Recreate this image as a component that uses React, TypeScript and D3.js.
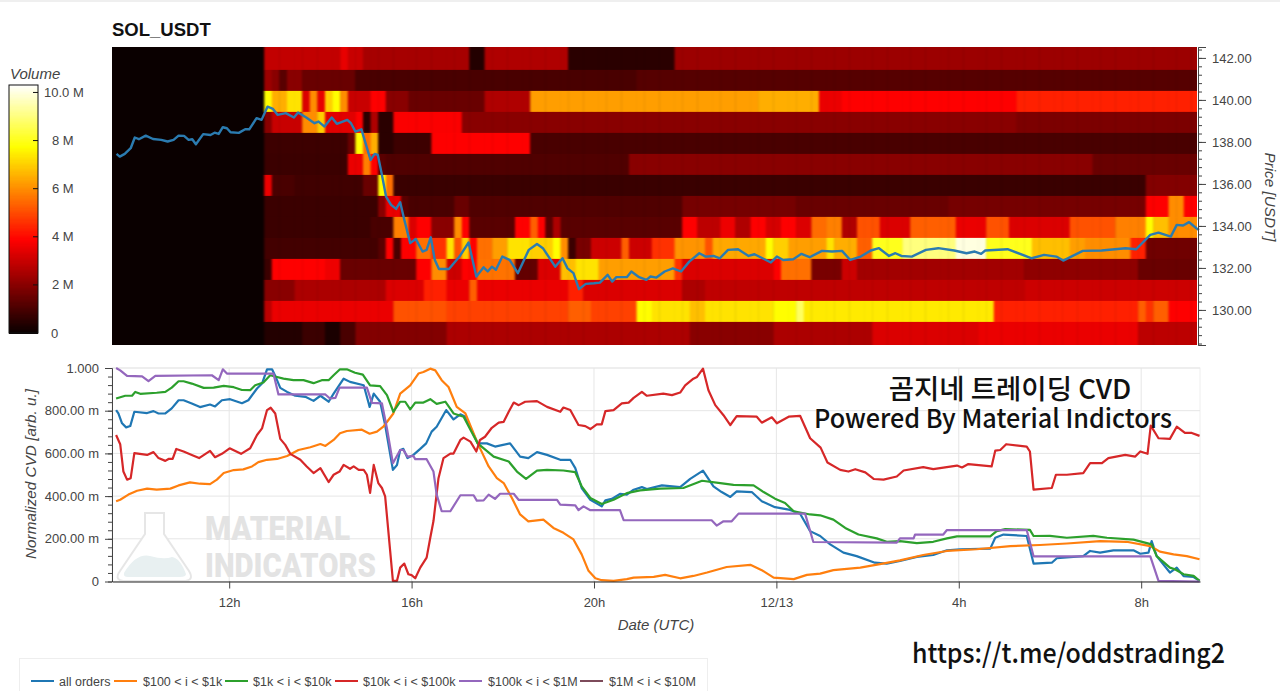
import React, { useEffect, useRef } from 'react';
import * as d3 from 'd3';

type Pt = [number, number];

// time is in hours from 12/12 00:00
const hourTicks = [12, 16, 20, 24, 28, 32];
const hourLabels = ['12h', '16h', '20h', '12/13', '4h', '8h'];
const priceTicks = [130, 132, 134, 136, 138, 140, 142];
const cvdTicks = [0, 0.2, 0.4, 0.6, 0.8, 1];
const volumeTicks = [0, 2, 4, 6, 8, 10];

// heatmap: one row per price level, runs of [end column, volume in millions], 10 minute columns
const heatStartHour = 12.767;
const heatColHours = 1 / 6;
const heatCols = 123;
const row142: Pt[] = [[10, 2.9], [11, 3.5], [13, 3.0], [27, 2.45], [29, 0.4], [40, 2.6], [54, 0.5], [123, 2.3]];
const row141: Pt[] = [[1, 2.3], [2, 2.0], [3, 1.25], [5, 2.0], [12, 1.5], [49, 1.0], [123, 1.2]];
const row140: Pt[] = [[1, 7.7], [3, 6.5], [5, 7.3], [6, 3.3], [7, 6.0], [8, 3.5], [9, 7.0], [10, 7.7], [11, 6.0], [14, 3.0], [16, 3.85], [19, 2.0], [29, 1.5], [35, 2.6], [65, 6.25], [73, 6.5], [76, 3.55], [99, 3.85], [123, 4.35]];
const row139: Pt[] = [[1, 2.0], [5, 3.0], [7, 6.0], [8, 7.0], [12, 3.4], [13, 3.85], [14, 0.5], [15, 2.6], [17, 0.5], [26, 3.8], [99, 2.0], [123, 1.8]];
const row138: Pt[] = [[11, 0.8], [12, 1.5], [13, 7.7], [14, 5.5], [15, 6.5], [17, 0.5], [22, 0.8], [35, 3.85], [123, 1.0]];
const row137: Pt[] = [[11, 0.77], [13, 3.55], [14, 5.8], [15, 3.85], [16, 1.25], [48, 1.1], [109, 2.0], [123, 1.5]];
const row136: Pt[] = [[1, 3.55], [4, 1.0], [13, 0.85], [15, 1.5], [16, 7.7], [17, 5.55], [116, 0.75], [123, 1.9]];
const row135: Pt[] = [[15, 0.77], [16, 2.0], [18, 3.55], [19, 1.25], [25, 1.0], [27, 1.5], [55, 1.1], [70, 1.7], [90, 1.5], [116, 1.7], [119, 3.85], [121, 6.0], [123, 3.85]];
const row134: Pt[] = [[14, 0.77], [17, 1.0], [19, 5.8], [20, 3.3], [22, 3.85], [25, 2.0], [26, 6.0], [27, 3.85], [33, 1.25], [35, 3.85], [36, 5.3], [37, 3.85], [38, 1.25], [39, 2.55], [55, 1.25], [57, 3.85], [60, 2.8], [62, 3.6], [64, 2.6], [66, 3.85], [68, 3.2], [70, 3.85], [72, 3.3], [74, 5.5], [76, 5.8], [78, 2.6], [81, 5.1], [85, 3.3], [91, 5.3], [95, 3.55], [98, 5.1], [106, 3.3], [112, 5.1], [116, 5.8], [117, 7.7], [119, 6.75], [123, 6.0]];
const row133: Pt[] = [[15, 0.9], [16, 1.25], [17, 3.85], [18, 1.0], [20, 3.85], [22, 5.55], [24, 4.6], [25, 7.3], [26, 5.1], [27, 7.0], [28, 3.85], [30, 5.55], [32, 6.25], [35, 7.3], [38, 7.0], [39, 7.7], [40, 6.0], [41, 0.77], [43, 1.75], [47, 3.05], [48, 5.3], [51, 3.05], [54, 4.6], [58, 6.1], [59, 5.1], [66, 6.4], [67, 7.7], [69, 7.0], [74, 6.25], [75, 7.3], [78, 6.5], [80, 5.3], [84, 8.0], [91, 9.0], [95, 10.0], [101, 8.0], [106, 6.75], [108, 6.25], [114, 6.0], [116, 4.35], [123, 1.6]];
const row132: Pt[] = [[1, 0.77], [8, 3.85], [10, 3.6], [20, 1.5], [22, 3.85], [24, 6.0], [26, 3.05], [28, 3.85], [33, 5.6], [36, 1.4], [39, 3.3], [41, 6.75], [44, 7.3], [54, 6.25], [55, 4.6], [67, 3.3], [68, 3.85], [72, 5.55], [76, 1.75], [78, 3.05], [100, 2.4], [115, 2.1], [123, 1.5]];
const row131: Pt[] = [[4, 2.0], [16, 2.55], [21, 3.3], [24, 4.35], [27, 3.55], [28, 5.3], [40, 3.55], [42, 4.35], [55, 3.3], [58, 2.55], [100, 2.85], [123, 3.05]];
const row130: Pt[] = [[1, 2.8], [17, 3.55], [24, 5.1], [40, 4.85], [43, 5.3], [49, 4.85], [51, 7.7], [56, 7.3], [58, 6.75], [67, 7.3], [70, 7.7], [71, 8.7], [96, 7.4], [115, 4.35], [116, 5.3], [117, 4.6], [119, 5.3], [123, 3.85]];
const row129: Pt[] = [[5, 0.4], [8, 0.77], [10, 0.25], [12, 1.0], [24, 1.9], [56, 2.55], [67, 2.0], [80, 2.55], [94, 3.3], [115, 3.55], [123, 2.8]];
const heatPrices = [142, 141, 140, 139, 138, 137, 136, 135, 134, 133, 132, 131, 130, 129];
const heatRows = [row142, row141, row140, row139, row138, row137, row136, row135, row134, row133, row132, row131, row130, row129];

const price: Pt[] = [[9.53, 137.43], [9.6, 137.3], [9.71, 137.43], [9.84, 137.7], [9.93, 138.21], [10.02, 138.13], [10.17, 138.3], [10.33, 138.14], [10.51, 138.1], [10.65, 138.02], [10.78, 138.1], [10.89, 138.3], [11.01, 138.29], [11.11, 138.1], [11.19, 138.13], [11.27, 137.89], [11.43, 138.37], [11.59, 138.33], [11.68, 138.44], [11.77, 138.38], [11.86, 138.7], [11.95, 138.65], [12.03, 138.46], [12.21, 138.43], [12.35, 138.6], [12.44, 138.6], [12.6, 139.13], [12.71, 139.05], [12.84, 139.68], [12.96, 139.57], [13.06, 139.29], [13.24, 139.37], [13.42, 139.16], [13.51, 139.4], [13.69, 139.16], [13.87, 138.89], [13.96, 138.97], [14.09, 138.73], [14.25, 139.16], [14.36, 138.86], [14.59, 139.05], [14.67, 138.89], [14.77, 138.49], [14.9, 138.6], [14.99, 137.94], [15.1, 137.14], [15.19, 137.43], [15.26, 137.38], [15.35, 136.43], [15.44, 135.4], [15.55, 135.0], [15.66, 134.81], [15.75, 135.13], [15.84, 134.29], [15.97, 133.18], [16.09, 133.38], [16.24, 132.78], [16.33, 132.86], [16.42, 133.46], [16.51, 132.38], [16.6, 131.95], [16.82, 131.95], [17.05, 132.54], [17.25, 133.21], [17.42, 131.59], [17.58, 132.03], [17.67, 131.83], [17.76, 132.06], [17.85, 131.91], [17.99, 132.54], [18.15, 132.38], [18.33, 131.75], [18.57, 132.86], [18.75, 133.14], [18.88, 132.94], [19.15, 132.06], [19.31, 132.46], [19.42, 131.98], [19.55, 131.75], [19.67, 130.99], [19.82, 131.24], [20.0, 131.27], [20.13, 131.3], [20.3, 131.67], [20.4, 131.35], [20.49, 131.56], [20.72, 131.56], [20.82, 131.83], [20.99, 131.56], [21.15, 131.43], [21.24, 131.59], [21.37, 131.54], [21.55, 131.83], [21.73, 131.98], [21.91, 131.83], [22.09, 132.3], [22.31, 132.7], [22.45, 132.54], [22.62, 132.57], [22.76, 132.46], [22.94, 132.86], [23.16, 132.89], [23.39, 132.57], [23.52, 132.65], [23.88, 132.26], [24.01, 132.54], [24.15, 132.38], [24.37, 132.41], [24.55, 132.67], [24.73, 132.51], [25.0, 132.81], [25.22, 132.78], [25.44, 132.81], [25.62, 132.38], [25.85, 132.54], [26.07, 132.83], [26.25, 132.94], [26.47, 132.57], [26.61, 132.7], [26.74, 132.57], [26.97, 132.54], [27.28, 132.86], [27.55, 132.94], [27.9, 132.83], [28.17, 132.7], [28.35, 132.78], [28.49, 132.67], [28.58, 132.83], [29.07, 132.89], [29.6, 132.46], [29.87, 132.62], [30.14, 132.54], [30.29, 132.35], [30.72, 132.81], [31.13, 132.83], [31.66, 132.94], [31.89, 132.89], [32.2, 133.57], [32.38, 133.68], [32.65, 133.49], [32.78, 134.05], [32.92, 134.02], [33.05, 134.18], [33.21, 133.89], [33.27, 133.81]];

const cvdAll: Pt[] = [[9.52, 0.803], [9.57, 0.787], [9.65, 0.741], [9.74, 0.722], [9.83, 0.728], [9.92, 0.795], [10.2, 0.789], [10.34, 0.798], [10.45, 0.787], [10.6, 0.787], [10.74, 0.811], [10.89, 0.849], [11.0, 0.849], [11.18, 0.834], [11.36, 0.817], [11.58, 0.829], [11.69, 0.82], [11.84, 0.849], [12.02, 0.854], [12.28, 0.835], [12.42, 0.849], [12.61, 0.904], [12.72, 0.927], [12.83, 0.994], [12.94, 0.994], [13.01, 0.963], [13.12, 0.907], [13.27, 0.888], [13.45, 0.87], [13.67, 0.865], [13.85, 0.846], [14.0, 0.87], [14.18, 0.842], [14.29, 0.88], [14.51, 0.95], [14.65, 0.935], [14.95, 0.919], [15.06, 0.834], [15.08, 0.818], [15.17, 0.88], [15.31, 0.842], [15.42, 0.733], [15.59, 0.523], [15.68, 0.546], [15.75, 0.616], [15.82, 0.621], [15.91, 0.578], [16.04, 0.593], [16.19, 0.621], [16.32, 0.647], [16.44, 0.702], [16.55, 0.725], [16.76, 0.803], [16.92, 0.759], [17.07, 0.783], [17.18, 0.772], [17.45, 0.647], [17.65, 0.647], [17.83, 0.632], [18.16, 0.647], [18.38, 0.585], [18.56, 0.578], [18.75, 0.606], [18.97, 0.593], [19.26, 0.57], [19.48, 0.57], [19.59, 0.531], [19.73, 0.438], [19.92, 0.383], [20.17, 0.352], [20.25, 0.38], [20.39, 0.387], [20.57, 0.41], [20.72, 0.407], [20.87, 0.43], [21.05, 0.442], [21.16, 0.433], [21.49, 0.45], [21.89, 0.442], [22.11, 0.481], [22.39, 0.519], [22.62, 0.446], [22.8, 0.419], [22.99, 0.396], [23.13, 0.422], [23.46, 0.419], [23.68, 0.376], [23.97, 0.348], [24.27, 0.337], [24.52, 0.317], [24.74, 0.236], [24.96, 0.213], [25.18, 0.174], [25.47, 0.135], [25.76, 0.119], [26.16, 0.088], [26.42, 0.084], [26.71, 0.096], [27.08, 0.115], [27.44, 0.124], [27.74, 0.146], [28.03, 0.151], [28.69, 0.154], [28.8, 0.205], [28.98, 0.22], [29.49, 0.213], [29.64, 0.084], [30.04, 0.088], [30.15, 0.109], [30.73, 0.119], [30.88, 0.143], [31.1, 0.135], [31.39, 0.146], [31.83, 0.146], [31.98, 0.13], [32.16, 0.135], [32.23, 0.189], [32.34, 0.119], [32.63, 0.042], [32.78, 0.065], [32.93, 0.025], [33.15, 0.021], [33.28, 0.003]];
const cvd100: Pt[] = [[9.52, 0.376], [9.61, 0.383], [9.79, 0.407], [9.98, 0.425], [10.2, 0.435], [10.41, 0.43], [10.71, 0.435], [10.89, 0.45], [11.14, 0.464], [11.36, 0.458], [11.58, 0.456], [11.73, 0.477], [11.88, 0.508], [12.1, 0.522], [12.31, 0.525], [12.5, 0.539], [12.64, 0.559], [12.83, 0.57], [13.05, 0.574], [13.27, 0.588], [13.52, 0.616], [13.78, 0.629], [14.0, 0.644], [14.11, 0.635], [14.29, 0.663], [14.43, 0.694], [14.58, 0.705], [14.91, 0.711], [15.08, 0.692], [15.24, 0.702], [15.38, 0.725], [15.6, 0.787], [15.75, 0.88], [15.97, 0.919], [16.15, 0.974], [16.26, 0.981], [16.41, 0.997], [16.52, 0.989], [16.66, 0.943], [16.81, 0.911], [16.99, 0.818], [17.18, 0.787], [17.45, 0.647], [17.69, 0.539], [17.87, 0.484], [18.02, 0.461], [18.2, 0.391], [18.38, 0.314], [18.56, 0.282], [18.89, 0.29], [19.11, 0.251], [19.33, 0.228], [19.55, 0.197], [19.73, 0.127], [19.88, 0.05], [20.03, 0.015], [20.17, 0.006], [20.43, 0.003], [20.72, 0.011], [20.87, 0.018], [21.31, 0.022], [21.56, 0.031], [21.89, 0.015], [22.18, 0.026], [22.48, 0.042], [22.91, 0.068], [23.43, 0.078], [23.68, 0.053], [23.94, 0.018], [24.38, 0.011], [24.67, 0.031], [24.96, 0.037], [25.25, 0.053], [25.84, 0.065], [26.27, 0.081], [26.71, 0.099], [27.22, 0.124], [27.74, 0.143], [28.39, 0.151], [29.13, 0.166], [29.78, 0.171], [30.37, 0.178], [31.1, 0.189], [31.68, 0.186], [32.2, 0.166], [32.41, 0.14], [32.71, 0.127], [33.0, 0.119], [33.28, 0.104]];
const cvd1k: Pt[] = [[9.52, 0.857], [9.72, 0.87], [9.87, 0.87], [9.94, 0.888], [10.05, 0.879], [10.41, 0.884], [10.6, 0.888], [10.74, 0.908], [10.89, 0.938], [11.0, 0.938], [11.18, 0.927], [11.44, 0.907], [11.66, 0.908], [11.88, 0.916], [12.1, 0.91], [12.28, 0.897], [12.46, 0.896], [12.57, 0.919], [12.75, 0.932], [12.9, 0.966], [13.05, 0.958], [13.19, 0.95], [13.41, 0.943], [13.63, 0.943], [13.85, 0.929], [14.03, 0.943], [14.18, 0.943], [14.29, 0.966], [14.43, 0.994], [14.58, 0.994], [14.76, 0.978], [14.93, 0.969], [15.09, 0.919], [15.31, 0.915], [15.46, 0.873], [15.6, 0.795], [15.75, 0.842], [15.86, 0.842], [15.97, 0.806], [16.08, 0.838], [16.26, 0.838], [16.41, 0.854], [16.55, 0.832], [16.74, 0.842], [16.92, 0.787], [17.14, 0.772], [17.45, 0.647], [17.8, 0.585], [18.13, 0.562], [18.31, 0.515], [18.51, 0.481], [18.75, 0.519], [18.97, 0.523], [19.33, 0.52], [19.59, 0.512], [19.73, 0.446], [19.92, 0.391], [20.17, 0.363], [20.43, 0.383], [20.72, 0.414], [21.01, 0.427], [21.45, 0.435], [21.96, 0.438], [22.37, 0.472], [22.77, 0.461], [23.06, 0.453], [23.5, 0.45], [23.72, 0.419], [23.97, 0.388], [24.19, 0.368], [24.38, 0.329], [24.74, 0.314], [24.96, 0.31], [25.25, 0.29], [25.51, 0.251], [25.8, 0.22], [26.2, 0.202], [26.42, 0.186], [26.71, 0.189], [27.08, 0.18], [27.44, 0.186], [27.74, 0.202], [27.96, 0.211], [28.69, 0.211], [28.83, 0.236], [29.02, 0.245], [29.56, 0.242], [29.64, 0.213], [30.0, 0.214], [30.37, 0.205], [30.95, 0.214], [31.25, 0.205], [31.83, 0.196], [32.23, 0.174], [32.34, 0.119], [32.63, 0.065], [32.74, 0.057], [32.93, 0.034], [33.15, 0.026], [33.28, 0.003]];
const cvd10k: Pt[] = [[9.52, 0.686], [9.61, 0.643], [9.68, 0.515], [9.76, 0.477], [9.84, 0.484], [9.92, 0.601], [10.2, 0.593], [10.34, 0.606], [10.45, 0.578], [10.6, 0.565], [10.67, 0.574], [10.76, 0.574], [10.84, 0.621], [11.0, 0.609], [11.18, 0.593], [11.34, 0.578], [11.58, 0.612], [11.69, 0.582], [11.84, 0.598], [12.01, 0.624], [12.26, 0.598], [12.46, 0.624], [12.61, 0.686], [12.72, 0.717], [12.83, 0.803], [12.91, 0.814], [13.01, 0.787], [13.12, 0.668], [13.23, 0.64], [13.34, 0.598], [13.56, 0.57], [13.7, 0.539], [13.85, 0.508], [14.0, 0.531], [14.18, 0.466], [14.29, 0.5], [14.42, 0.515], [14.51, 0.546], [14.65, 0.528], [14.73, 0.539], [14.84, 0.523], [14.95, 0.523], [15.02, 0.5], [15.09, 0.415], [15.17, 0.546], [15.27, 0.461], [15.35, 0.438], [15.42, 0.399], [15.53, 0.143], [15.59, 0.003], [15.68, 0.003], [15.75, 0.065], [15.84, 0.084], [15.93, 0.034], [16.0, 0.03], [16.08, 0.015], [16.19, 0.065], [16.33, 0.112], [16.41, 0.205], [16.48, 0.283], [16.59, 0.484], [16.7, 0.578], [16.85, 0.599], [16.92, 0.599], [17.07, 0.663], [17.14, 0.674], [17.29, 0.655], [17.42, 0.609], [17.5, 0.663], [17.61, 0.678], [17.76, 0.72], [17.91, 0.744], [18.02, 0.748], [18.13, 0.795], [18.24, 0.838], [18.35, 0.826], [18.49, 0.842], [18.75, 0.845], [18.97, 0.818], [19.26, 0.795], [19.33, 0.815], [19.48, 0.803], [19.66, 0.733], [19.81, 0.728], [19.92, 0.714], [20.06, 0.736], [20.17, 0.736], [20.25, 0.798], [20.43, 0.803], [20.61, 0.834], [20.76, 0.838], [20.87, 0.86], [21.05, 0.888], [21.16, 0.87], [21.52, 0.88], [21.71, 0.873], [21.89, 0.885], [22.0, 0.919], [22.18, 0.95], [22.26, 0.958], [22.39, 0.997], [22.51, 0.896], [22.66, 0.826], [22.84, 0.779], [22.99, 0.733], [23.13, 0.775], [23.57, 0.772], [23.68, 0.744], [23.9, 0.769], [24.01, 0.741], [24.27, 0.772], [24.52, 0.776], [24.74, 0.671], [24.97, 0.627], [25.12, 0.557], [25.4, 0.523], [25.58, 0.515], [25.73, 0.526], [25.95, 0.511], [26.14, 0.48], [26.35, 0.477], [26.64, 0.492], [26.79, 0.52], [27.22, 0.536], [27.44, 0.526], [27.96, 0.543], [28.07, 0.534], [28.21, 0.55], [28.72, 0.539], [28.8, 0.613], [28.91, 0.616], [29.04, 0.643], [29.49, 0.632], [29.56, 0.609], [29.64, 0.43], [30.04, 0.438], [30.13, 0.5], [30.37, 0.5], [30.73, 0.508], [30.88, 0.554], [31.14, 0.554], [31.28, 0.578], [31.65, 0.593], [31.87, 0.585], [31.98, 0.609], [32.14, 0.598], [32.21, 0.73], [32.38, 0.671], [32.63, 0.668], [32.78, 0.725], [32.96, 0.696], [33.11, 0.696], [33.28, 0.682]];
const cvd100k: Pt[] = [[9.52, 1.0], [9.61, 0.989], [9.76, 0.963], [10.09, 0.961], [10.23, 0.939], [10.38, 0.963], [11.62, 0.966], [11.77, 0.943], [11.86, 0.994], [11.95, 0.974], [12.97, 0.974], [13.08, 0.876], [14.11, 0.876], [14.21, 0.857], [14.33, 0.86], [14.42, 0.908], [15.02, 0.908], [15.13, 0.837], [15.35, 0.834], [15.46, 0.717], [15.59, 0.554], [15.75, 0.616], [15.82, 0.616], [15.91, 0.585], [16.04, 0.588], [16.08, 0.573], [16.33, 0.573], [16.48, 0.515], [16.55, 0.407], [16.66, 0.329], [16.85, 0.329], [17.07, 0.404], [17.36, 0.404], [17.43, 0.379], [17.58, 0.38], [17.69, 0.407], [17.83, 0.387], [17.94, 0.411], [18.24, 0.411], [18.35, 0.382], [19.19, 0.382], [19.26, 0.36], [19.59, 0.357], [19.66, 0.334], [19.77, 0.352], [19.92, 0.334], [20.57, 0.334], [20.65, 0.287], [22.58, 0.287], [22.69, 0.262], [22.84, 0.282], [23.02, 0.282], [23.17, 0.318], [24.63, 0.318], [24.81, 0.185], [26.64, 0.182], [26.71, 0.202], [27.01, 0.202], [27.04, 0.22], [27.66, 0.22], [27.74, 0.241], [29.49, 0.241], [29.64, 0.118], [32.2, 0.118], [32.38, 0.003], [33.28, 0.0]];
const cvd1m: Pt[] = [];

const seriesNames = ['all orders', '$100 < i < $1k', '$1k < i < $10k', '$10k < i < $100k', '$100k < i < $1M', '$1M < i < $10M'];
const seriesColors = ['#1f77b4', '#ff7f0e', '#2ca02c', '#d62728', '#9467bd', '#7d4b5b'];
const seriesData = [cvdAll, cvd100, cvd1k, cvd10k, cvd100k, cvd1m];
const legendLines = [31, 114, 225, 335, 459, 580];
const legendTexts = [59, 143, 253, 363, 488, 609];

const sans = '"Liberation Sans", Arial, sans-serif';
const kr = '"Noto Sans CJK KR", "Noto Sans", sans-serif';

export default function App() {
  const ref = useRef<SVGSVGElement>(null);

  useEffect(() => {
    if (!ref.current) return;
    const svg = d3.select(ref.current);
    svg.selectAll('*').remove();

    const x = d3.scaleLinear().domain([9.43, 33.29]).range([112, 1200]);
    const heatRight = 1197;
    const yPrice = d3.scaleLinear().domain([128.33, 142.52]).range([345, 47]);
    const yCvd = d3.scaleLinear().domain([0, 1]).range([581.5, 368]);
    const heat = d3.scaleLinear<string>()
      .domain([0, 3.86, 7.72, 10.31])
      .range(['#0a0000', '#ff0000', '#ffff00', '#ffffff'])
      .clamp(true);

    svg.append('rect').attr('width', 1280).attr('height', 2).attr('fill', '#efefef');

    svg.append('text').text('SOL_USDT')
      .attr('x', 112).attr('y', 36)
      .attr('font-family', sans).attr('font-size', 18.5).attr('font-weight', 700).attr('fill', '#111');

    // heatmap, softened a little because the source is an upscaled image
    const defs = svg.append('defs');
    defs.append('clipPath').attr('id', 'heat-clip').append('rect')
      .attr('x', 112).attr('y', 47).attr('width', heatRight - 112).attr('height', 298);
    const blur = defs.append('filter').attr('id', 'heat-blur')
      .attr('filterUnits', 'userSpaceOnUse')
      .attr('x', 100).attr('y', 30).attr('width', 1120).attr('height', 330)
      .attr('color-interpolation-filters', 'sRGB');
    blur.append('feGaussianBlur').attr('stdDeviation', '1.1 0.5');

    svg.append('rect')
      .attr('x', 112).attr('y', 47).attr('width', heatRight - 112).attr('height', 298)
      .attr('fill', '#0a0000');

    const heatClip = svg.append('g').attr('clip-path', 'url(#heat-clip)');
    const heatG = heatClip.append('g').attr('filter', 'url(#heat-blur)');
    heatG.append('rect')
      .attr('x', 100).attr('y', 35).attr('width', 164).attr('height', 320)
      .attr('fill', '#0a0000');
    heatRows.forEach((row, r) => {
      const p = heatPrices[r];
      // first and last rows run past the plot so the blur does not fade at the edge
      const top = r === 0 ? p + 1 : p + 0.43;
      const bottom = r === heatRows.length - 1 ? p - 1.2 : p - 0.57;
      let start = 0;
      row.forEach(([end, vol]) => {
        d3.range(start, end).forEach(col => {
          if (col >= heatCols) return;
          const x0 = x(heatStartHour + col * heatColHours);
          const x1 = col === heatCols - 1 ? heatRight + 8 : x(heatStartHour + (col + 1) * heatColHours);
          heatG.append('rect')
            .attr('x', x0).attr('y', yPrice(top))
            .attr('width', x1 - x0 + 0.4)
            .attr('height', yPrice(bottom) - yPrice(top) + 0.4)
            .attr('fill', heat(vol));
        });
        start = end;
      });
    });

    // price line
    const line = d3.line<Pt>().x(d => x(d[0]));
    svg.append('path')
      .attr('d', line.y(d => yPrice(d[1]))(price) as string)
      .attr('fill', 'none').attr('stroke', '#2b7bb0').attr('stroke-width', 2.4).attr('stroke-linejoin', 'round');

    // price axis
    const styleAxis = (g: any, size = 13) => {
      g.selectAll('path').attr('stroke', '#444');
      g.selectAll('line').attr('stroke', '#444');
      g.selectAll('text').attr('font-family', sans).attr('font-size', size).attr('fill', '#444');
    };
    const priceAxis = svg.append('g').attr('transform', `translate(1198,0)`)
      .call(d3.axisRight(yPrice).tickValues(priceTicks).tickFormat(d => (d as number).toFixed(2)).tickSizeOuter(0).tickSize(8).tickPadding(6) as any);
    styleAxis(priceAxis);
    const priceMinor = svg.append('g').attr('transform', `translate(1198,0)`)
      .call(d3.axisRight(yPrice).tickValues(d3.range(128.4, 142.5, 0.4)).tickFormat(() => '').tickSize(4).tickSizeOuter(0) as any);
    styleAxis(priceMinor);

    svg.append('text').text('Price [USDT]')
      .attr('transform', 'translate(1265,197) rotate(90)')
      .attr('text-anchor', 'middle').attr('font-family', sans).attr('font-size', 15.3)
      .attr('font-style', 'italic').attr('fill', '#444');

    // colour bar
    const yBar = d3.scaleLinear().domain([0, 10.31]).range([333, 85]);
    svg.append('text').text('Volume')
      .attr('x', 10).attr('y', 79).attr('font-family', sans).attr('font-size', 15)
      .attr('font-style', 'italic').attr('fill', '#444');
    const barG = svg.append('g').attr('shape-rendering', 'crispEdges');
    d3.range(0, 10.31, 0.05).forEach(v => {
      barG.append('rect')
        .attr('x', 9).attr('width', 29)
        .attr('y', yBar(v + 0.05)).attr('height', yBar(v) - yBar(v + 0.05) + 0.5)
        .attr('fill', heat(v));
    });
    svg.append('rect')
      .attr('x', 9).attr('y', 85).attr('width', 29).attr('height', 248)
      .attr('fill', 'none').attr('stroke', '#111').attr('stroke-width', 1);
    volumeTicks.forEach(v => {
      if (v > 0) {
        svg.append('line')
          .attr('x1', 33).attr('x2', 38).attr('y1', yBar(v)).attr('y2', yBar(v))
          .attr('stroke', '#111');
      }
      svg.append('text').text(v === 0 ? '0' : v === 10 ? '10.0 M' : `${v} M`)
        .attr('x', v === 10 ? 44 : v === 0 ? 51 : 52).attr('y', yBar(v) + 4.5)
        .attr('font-family', sans).attr('font-size', 13).attr('fill', '#444');
    });

    // CVD panel
    svg.append('rect')
      .attr('x', 112).attr('y', 368).attr('width', 1088).attr('height', 213.5)
      .attr('fill', '#fff').attr('stroke', '#eeeeee');
    hourTicks.forEach(h => {
      svg.append('line').attr('x1', x(h)).attr('x2', x(h)).attr('y1', 368).attr('y2', 581.5)
        .attr('stroke', '#e6e6e6');
    });
    cvdTicks.forEach(v => {
      svg.append('line').attr('x1', 112).attr('x2', 1200).attr('y1', yCvd(v)).attr('y2', yCvd(v))
        .attr('stroke', '#e6e6e6');
    });

    // watermark
    const mark = svg.append('g');
    mark.append('path')
      .attr('d', 'M145,513 L164,513 L164,534 L189,571 Q195,581 183,581 L126,581 Q113,581 120,571 L145,534 Z')
      .attr('fill', '#fff').attr('stroke', '#e6e6e6').attr('stroke-width', 2);
    mark.append('path')
      .attr('d', 'M124,573 Q136,553 150,556 Q164,560 172,557 Q180,558 186,574 Q186,577 180,577 L128,577 Q123,577 124,573 Z')
      .attr('fill', '#e8f0f1');
    mark.append('text').text('MATERIAL')
      .attr('x', 205).attr('y', 540).attr('textLength', 145).attr('lengthAdjust', 'spacingAndGlyphs')
      .attr('font-family', 'Roboto, sans-serif').attr('font-weight', 900).attr('font-size', 33).attr('fill', '#e3e3e3');
    mark.append('text').text('INDICATORS')
      .attr('x', 205).attr('y', 577).attr('textLength', 171).attr('lengthAdjust', 'spacingAndGlyphs')
      .attr('font-family', 'Roboto, sans-serif').attr('font-weight', 900).attr('font-size', 33).attr('fill', '#e3e3e3');

    // CVD lines
    seriesData.forEach((s, i) => {
      if (s.length === 0) return;
      svg.append('path')
        .attr('d', line.y(d => yCvd(d[1]))(s) as string)
        .attr('fill', 'none').attr('stroke', seriesColors[i]).attr('stroke-width', 2.2).attr('stroke-linejoin', 'round');
    });

    // CVD axes
    const cvdFormat = (d: any) => {
      if (d === 0) return '0';
      if (d === 1) return '1.000';
      return `${Math.round(d * 1000)}.00 m`;
    };
    const leftAxis = svg.append('g').attr('transform', 'translate(112,0)')
      .call(d3.axisLeft(yCvd).tickValues(cvdTicks).tickFormat(cvdFormat).tickSize(7).tickSizeOuter(0).tickPadding(6) as any);
    styleAxis(leftAxis);
    const leftMinor = svg.append('g').attr('transform', 'translate(112,0)')
      .call(d3.axisLeft(yCvd).tickValues(d3.range(0, 1.001, 0.04)).tickFormat(() => '').tickSize(4).tickSizeOuter(0) as any);
    styleAxis(leftMinor);

    const bottomAxis = svg.append('g').attr('transform', 'translate(0,581.5)')
      .call(d3.axisBottom(x).tickValues(hourTicks).tickFormat((_, i) => hourLabels[i]).tickSize(7).tickSizeOuter(0).tickPadding(9) as any);
    styleAxis(bottomAxis);
    bottomAxis.select('path').attr('stroke', '#222');

    svg.append('text').text('Normalized CVD [arb. u.]')
      .attr('transform', 'translate(36,474) rotate(-90)')
      .attr('text-anchor', 'middle').attr('font-family', sans).attr('font-size', 15.3)
      .attr('font-style', 'italic').attr('fill', '#444');
    svg.append('text').text('Date (UTC)')
      .attr('x', 656).attr('y', 630).attr('text-anchor', 'middle')
      .attr('font-family', sans).attr('font-size', 15).attr('font-style', 'italic').attr('fill', '#444');

    // overlay captions
    svg.append('text').text('곰지네 트레이딩 CVD')
      .attr('x', 1010).attr('y', 399).attr('text-anchor', 'middle')
      .attr('font-family', kr).attr('font-size', 27.5).attr('font-weight', 500).attr('fill', '#111');
    svg.append('text').text('Powered By Material Indictors')
      .attr('x', 814).attr('y', 428).attr('textLength', 358).attr('lengthAdjust', 'spacingAndGlyphs')
      .attr('font-family', kr).attr('font-size', 26).attr('font-weight', 500).attr('fill', '#111');
    svg.append('text').text('https://t.me/oddstrading2')
      .attr('x', 912).attr('y', 663).attr('textLength', 313).attr('lengthAdjust', 'spacingAndGlyphs')
      .attr('font-family', kr).attr('font-size', 27).attr('font-weight', 500).attr('fill', '#111');

    // legend
    svg.append('rect')
      .attr('x', 19.5).attr('y', 658.5).attr('width', 688).attr('height', 40)
      .attr('fill', '#fff').attr('stroke', '#eeeeee');
    seriesNames.forEach((name, i) => {
      svg.append('line')
        .attr('x1', legendLines[i]).attr('x2', legendLines[i] + 23).attr('y1', 681).attr('y2', 681)
        .attr('stroke', seriesColors[i]).attr('stroke-width', 2);
      svg.append('text').text(name)
        .attr('x', legendTexts[i]).attr('y', 685.5)
        .attr('font-family', sans).attr('font-size', 12.5).attr('fill', '#444');
    });
  }, []);

  return (
    <svg
      ref={ref}
      width={1280}
      height={691}
      style={{ position: 'absolute', left: 0, top: 0, display: 'block', background: '#fff' }}
    />
  );
}
